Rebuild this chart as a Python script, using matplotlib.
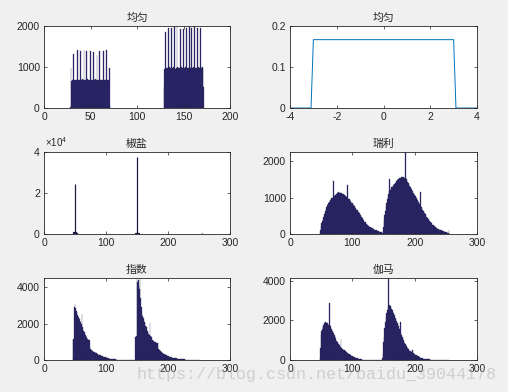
import matplotlib
matplotlib.use('Agg')
import matplotlib.pyplot as plt
import numpy as np
from matplotlib.ticker import FuncFormatter

plt.rcParams['font.family'] = ['Liberation Sans', 'DejaVu Sans']
plt.rcParams['mathtext.fontset'] = 'custom'
plt.rcParams['mathtext.rm'] = 'Liberation Sans'
plt.rcParams['axes.unicode_minus'] = False

# ---------------- data ----------------
titles = ['均匀', '均匀', '椒盐', '瑞利', '指数', '伽马']

# uniform noise histogram (two clusters)
uni_left_start = 28
uni_left = [30, 980, 660, 680, 1320, 690, 680, 690, 1420, 680, 690, 1380, 690, 700, 680,
            1420, 690, 680, 1400, 700, 690, 680, 1380, 690, 680, 1370, 690, 700, 680, 1290,
            690, 680, 1400, 690, 680, 680, 1390, 690, 680, 1420, 690, 680, 970, 40]
uni_right_start = 129
uni_right = [520, 960, 1860, 970, 980, 1940, 990, 970, 1950, 980, 990, 1970, 960, 980, 1980,
             990, 970, 980, 1930, 990, 980, 1920, 970, 990, 1960, 980, 970, 1970, 990, 980,
             1950, 970, 990, 2000, 980, 970, 1940, 990, 980, 1950, 970, 990, 960, 520]

# uniform pdf
pdf_x = [-4, -3.1, -3.0, 3.0, 3.1, 4]
pdf_y = [0, 0, 0.1667, 0.1667, 0, 0]

# salt & pepper histogram
sp_levels = [0, 47, 48, 49, 50, 51, 52, 53, 148, 149, 150, 151, 152, 255]
sp_counts = [500, 600, 900, 1100, 24500, 1000, 700, 400, 300, 500, 37400, 500, 300, 600]

# Rayleigh histogram, levels 48..255
ray_start = 48
ray_counts = [40, 120, 220, 290, 350, 420, 480, 540, 590, 640, 700, 740, 790, 820, 860, 880,
              910, 940, 960, 980, 1000, 1010, 1450, 1040, 1060, 1080, 1090, 1110, 1120, 1130,
              1150, 1140, 1160, 1140, 1130, 1120, 1110, 1100, 1090, 1080, 1060, 1050, 1040,
              1020, 1350, 990, 970, 950, 930, 910, 890, 860, 840, 820, 800, 770, 740, 720, 690,
              670, 650, 620, 600, 570, 550, 530, 500, 480, 450, 420, 390, 370, 340, 320, 300,
              280, 260, 240, 230, 215, 200, 190, 180, 170, 160, 150, 140, 130, 120, 115, 110,
              100, 95, 90, 80, 75, 65, 60, 55, 45, 40, 30,
              180, 380, 520, 640, 760, 860, 950, 1040, 1110, 1170, 1510, 1220, 1250, 1280, 1300,
              1320, 1340, 1360, 1380, 1400, 1430, 1460, 1480, 1500, 1510, 1520, 1530, 1540, 1550,
              1560, 1570, 1580, 1570, 1560, 1550, 2255, 1530, 1500, 1480, 1440, 1400, 1370, 1330,
              1300, 1260, 1230, 1200, 1170, 1140, 1110, 1080, 1050, 1020, 990, 960, 930, 890,
              860, 830, 1160, 780, 740, 700, 670, 630, 600, 570, 540, 510, 480, 460, 430, 410,
              380, 360, 340, 320, 300, 280, 260, 240, 225, 210, 195, 180, 170, 160, 150, 140,
              130, 120, 115, 105, 100, 90, 85, 75, 70, 60, 55, 50, 45, 40, 35, 30, 100]

# exponential histogram, levels 46..255
exp_start = 46
exp_counts = [20, 1100, 1150, 2900, 3070, 2850, 2700, 2650, 2500, 2420, 2380, 2250, 2150, 2100,
              2000, 2510, 1800, 1700, 1600, 1550, 1450, 1380, 1300, 1250, 1180, 1150, 1120, 1100,
              700, 620, 570, 540, 500, 470, 450, 430, 420, 400, 380, 360, 340, 320, 300, 280,
              270, 250, 240, 220, 200, 190, 170, 160, 150, 140, 130, 120, 110, 100, 95, 85, 80,
              70, 65, 60, 55, 50, 45, 40, 35, 30, 28, 25, 22, 20, 18, 15, 12, 10, 8, 6,
              0, 0, 0, 0, 0, 0, 0, 0, 0, 0, 0, 0, 0, 0, 0, 0, 0, 0, 0, 0, 0, 0,
              1290, 1300, 4520, 4300, 4400, 4100, 3900, 4520, 3400, 2900, 2610, 2450, 2300,
              2200, 2100, 2020, 1900, 1800, 1650, 1580, 1520, 1460, 1400, 2020, 1350, 1250,
              1100, 1080, 1050, 1030, 1010, 1000, 980, 960, 950, 930, 920, 600, 560, 530, 480,
              450, 420, 400, 370, 350, 330, 310, 290, 280, 270, 240, 220, 200, 190, 180, 165,
              150, 140, 135, 130, 120, 110, 100, 95, 90, 85, 75, 70, 65, 60, 55, 50, 45, 40,
              38, 35, 32, 30, 28, 27, 26, 25, 24, 23, 22, 21, 20, 19, 18, 18, 17, 16, 16, 15,
              15, 14, 14, 13, 13, 12, 12, 11, 11]

# gamma histogram, levels 48..255
gam_start = 48
gam_counts = [100, 590, 1260, 1450, 1580, 1700, 1770, 1850, 1900, 1940, 1920, 1880, 1850, 1820,
              1790, 2870, 1760, 1700, 1600, 1550, 1480, 1430, 1350, 1260, 1200, 1100, 1010, 970,
              920, 860, 800, 760, 720, 680, 1040, 620, 580, 560, 520, 490, 470, 440, 420, 390,
              370, 340, 320, 300, 280, 260, 240, 220, 200, 185, 170, 150, 135, 125, 115, 100,
              90, 80, 70, 62, 55, 45, 38, 30, 25, 20, 15, 10, 8,
              0, 0, 0, 0, 0, 0, 0, 0, 0, 0, 0, 0, 0, 0, 0, 0, 0, 0, 0, 0, 0, 0, 0, 0, 0, 0, 0,
              100, 337, 900, 1180, 1600, 1900, 2190, 2400, 2550, 2700, 4150, 2800, 2780, 2750,
              2700, 2600, 2520, 2440, 2380, 2300, 2280, 2150, 2020, 1950, 1890, 1800, 1700, 1600,
              1550, 1940, 1350, 1250, 1150, 1090, 1000, 930, 870, 800, 760, 700, 650, 590, 550,
              510, 470, 440, 420, 400, 380, 520, 330, 310, 300, 270, 250, 230, 210, 200, 180,
              160, 140, 125, 115, 105, 95, 85, 75, 70, 65, 55, 50, 45, 40, 38, 35, 30, 28, 25,
              23, 21, 20, 19, 18, 17, 16, 15, 14, 13, 12, 12, 11, 10, 10, 9, 9, 8, 8, 7, 7, 6,
              6, 5, 5, 5, 4, 4, 4, 4]

# ---------------- style ----------------
BG = '#f0f0f0'
FG = '#262626'
BAR_FC = '#302c7a'
BAR_EC = '#1c1a40'
W, H = 508, 392

fig = plt.figure(figsize=(W / 100, H / 100), dpi=100, facecolor=BG)


def make_ax(l, t, r, b):
    return fig.add_axes([l / W, 1 - b / H, (r - l) / W, (b - t) / H])


def style(ax, title):
    ax.set_facecolor('white')
    for s in ax.spines.values():
        s.set_linewidth(0.6)
        s.set_color(FG)
    ax.tick_params(direction='in', length=2.5, width=0.5, colors=FG, labelsize=7.5,
                   top=True, right=True, pad=3)
    ax.set_title(title, fontsize=7.8, color=FG, pad=3.5,
                 family=['Noto Sans CJK SC', 'DejaVu Sans'])


def hist_bars(ax, start, counts):
    lv = start + np.arange(len(counts))
    ax.bar(lv, counts, width=1.0, color=BAR_FC, edgecolor=BAR_EC, linewidth=0.2)


# top-left: uniform histogram
ax1 = make_ax(44, 26, 230, 108)
hist_bars(ax1, uni_left_start, uni_left)
hist_bars(ax1, uni_right_start, uni_right)
ax1.set_xlim(0, 200)
ax1.set_ylim(0, 2000)
ax1.set_xticks([0, 50, 100, 150, 200])
ax1.set_yticks([0, 1000, 2000])
style(ax1, titles[0])

# top-right: uniform pdf
ax2 = make_ax(290, 26, 477, 108)
ax2.plot(pdf_x, pdf_y, color='#0072BD', linewidth=0.7)
ax2.set_xlim(-4, 4)
ax2.set_ylim(0, 0.2)
ax2.set_xticks([-4, -2, 0, 2, 4])
ax2.set_yticks([0, 0.1, 0.2])
ax2.yaxis.set_major_formatter(FuncFormatter(lambda v, p: '0' if v == 0 else f'{v:g}'))
style(ax2, titles[1])

# middle-left: salt & pepper
ax3 = make_ax(44, 152, 230, 234)
ax3.bar(sp_levels, sp_counts, width=1.0, color=BAR_FC, edgecolor=BAR_EC, linewidth=0.9)
ax3.set_xlim(0, 300)
ax3.set_ylim(0, 40000)
ax3.set_xticks([0, 100, 200, 300])
ax3.set_yticks([0, 20000, 40000])
ax3.yaxis.set_major_formatter(FuncFormatter(lambda v, p: f'{v / 1e4:g}'))
style(ax3, titles[2])
ax3.text(0.005, 1.04, r'$\mathregular{\times10^{4}}$', transform=ax3.transAxes,
         fontsize=7, color=FG, ha='left', va='bottom')

# middle-right: Rayleigh
ax4 = make_ax(290, 152, 477, 234)
hist_bars(ax4, ray_start, ray_counts)
ax4.set_xlim(0, 300)
ax4.set_ylim(0, max(ray_counts))
ax4.set_xticks([0, 100, 200, 300])
ax4.set_yticks([0, 1000, 2000])
style(ax4, titles[3])

# bottom-left: exponential
ax5 = make_ax(44, 278, 230, 360)
hist_bars(ax5, exp_start, exp_counts)
ax5.set_xlim(0, 300)
ax5.set_ylim(0, max(exp_counts))
ax5.set_xticks([0, 100, 200, 300])
ax5.set_yticks([0, 2000, 4000])
style(ax5, titles[4])

# bottom-right: gamma
ax6 = make_ax(290, 278, 477, 360)
hist_bars(ax6, gam_start, gam_counts)
ax6.set_xlim(0, 300)
ax6.set_ylim(0, max(gam_counts))
ax6.set_xticks([0, 100, 200, 300])
ax6.set_yticks([0, 2000, 4000])
style(ax6, titles[5])

# watermark
fig.text(137 / W, 1 - 375 / H, 'https://blog.csdn.net/baidu_39044178',
         family=['Liberation Mono', 'DejaVu Sans Mono'], fontsize=12.1,
         color='#b4b4b4', alpha=0.55, ha='left', va='center')

fig.savefig('out.png', dpi=100, facecolor=BG)
